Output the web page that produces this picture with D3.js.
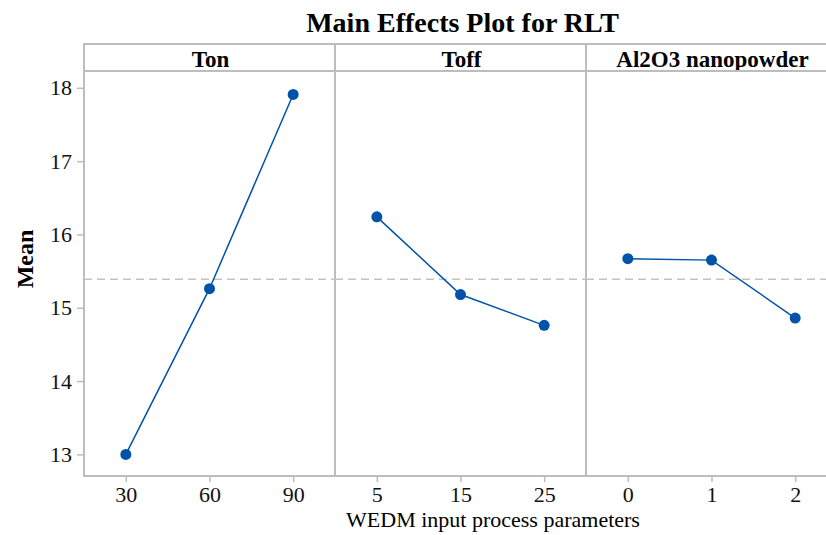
<!DOCTYPE html>
<html>
<head>
<meta charset="utf-8">
<script src="https://cdn.jsdelivr.net/npm/d3@7"></script>
<style>
  html, body { margin: 0; padding: 0; background: #fff; }
  svg, svg text { font-family: "Liberation Serif", "Times New Roman", serif; }
  svg { display: block; }
</style>
</head>
<body>
<svg id="chart" width="826" height="535"></svg>
<script>
// Factors and their levels
const factors = ["Ton", "Toff", "Al2O3 nanopowder"];
const tonLevels = ["30", "60", "90"];
const toffLevels = ["5", "15", "25"];
const powderLevels = ["0", "1", "2"];
// Mean RLT at each level
const tonMeans = [13.00, 15.26, 17.91];
const toffMeans = [16.24, 15.18, 14.76];
const powderMeans = [15.67, 15.65, 14.86];
const grandMean = 15.39;
const yTicks = [13, 14, 15, 16, 17, 18];

const levels = [tonLevels, toffLevels, powderLevels];
const means = [tonMeans, toffMeans, powderMeans];

const svg = d3.select("#chart");
const frameLeft = 84, panelW = 251, frameTop = 44, headerH = 27, plotBottom = 476;
const plotTop = frameTop + headerH;
const frameColor = "#bdbdbd";
const markColor = "#0053a8";

const y = d3.scaleLinear().domain([12.705, 18.23]).range([plotBottom, plotTop]);

// Title
svg.append("text")
  .attr("x", frameLeft + panelW * 1.5 + 2).attr("y", 31.5)
  .attr("text-anchor", "middle")
  .style("font-size", "28px").style("font-weight", "bold")
  .text("Main Effects Plot for RLT");

// Y axis
const yAxis = svg.append("g")
  .attr("transform", `translate(${frameLeft},0)`)
  .call(d3.axisLeft(y).tickValues(yTicks).tickSize(7).tickPadding(5).tickFormat(d3.format("d")));
yAxis.attr("font-family", null).attr("font-size", null);
yAxis.select(".domain").remove();
yAxis.selectAll(".tick line").attr("stroke", frameColor).attr("stroke-width", 1.5);
yAxis.selectAll(".tick text").style("font-size", "22px").attr("fill", "#111");

svg.append("text")
  .attr("transform", `translate(33,259) rotate(-90)`)
  .attr("text-anchor", "middle")
  .style("font-size", "24px").style("font-weight", "bold")
  .text("Mean");

factors.forEach((name, i) => {
  const x0 = frameLeft + i * panelW;
  const g = svg.append("g").attr("transform", `translate(${x0},0)`);
  const x = d3.scalePoint().domain(levels[i]).range([0, panelW]).padding(0.5);

  // Header strip
  g.append("text")
    .attr("x", panelW / 2 + 1).attr("y", frameTop + 22.5)
    .attr("text-anchor", "middle")
    .style("font-size", "23px").style("font-weight", "bold")
    .text(name);

  // Grand-mean reference line
  g.append("line")
    .attr("x1", 0).attr("x2", panelW)
    .attr("y1", y(grandMean)).attr("y2", y(grandMean))
    .attr("stroke", "#c3c3c3").attr("stroke-width", 1.5)
    .attr("stroke-dasharray", "8,5");

  // X axis
  const xAxis = g.append("g")
    .attr("transform", `translate(0,${plotBottom})`)
    .call(d3.axisBottom(x).tickSize(6));
  xAxis.attr("font-family", null).attr("font-size", null);
  xAxis.select(".domain").remove();
  xAxis.selectAll(".tick line").attr("stroke", frameColor).attr("stroke-width", 1.5);
  xAxis.selectAll(".tick text").attr("dy", null).attr("y", 26)
    .style("font-size", "22px").attr("fill", "#111");

  // Means line and points
  const pts = levels[i].map((l, j) => [x(l), y(means[i][j])]);
  g.append("path")
    .attr("d", d3.line()(pts))
    .attr("fill", "none").attr("stroke", markColor).attr("stroke-width", 1.5);
  g.selectAll("circle").data(pts).join("circle")
    .attr("cx", d => d[0]).attr("cy", d => d[1]).attr("r", 5.5)
    .attr("fill", markColor);

  // Panel frame
  g.append("rect")
    .attr("x", 0).attr("y", frameTop).attr("width", panelW).attr("height", plotBottom - frameTop)
    .attr("fill", "none").attr("stroke", frameColor).attr("stroke-width", 2);
  g.append("line")
    .attr("x1", 0).attr("x2", panelW).attr("y1", plotTop).attr("y2", plotTop)
    .attr("stroke", frameColor).attr("stroke-width", 2);
});

// X axis title
svg.append("text")
  .attr("x", 493).attr("y", 527)
  .attr("text-anchor", "middle")
  .style("font-size", "22px")
  .text("WEDM input process parameters");
</script>
</body>
</html>
